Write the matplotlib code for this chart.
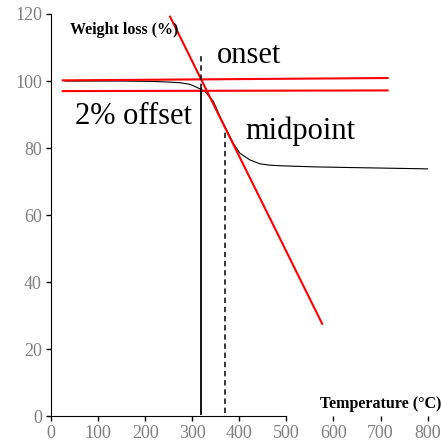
import matplotlib
matplotlib.use("Agg")
import matplotlib.pyplot as plt

# TGA curve (temperature in °C, remaining weight in %)
temp = [30, 150, 214, 250, 274, 296, 313, 327, 345, 359, 373, 387, 401, 422, 444, 465, 493, 560, 635, 720, 800]
weight = [100, 100, 99.9, 99.7, 99.5, 99.0, 97.9, 96.9, 93.9, 89.4, 85.5, 81.5, 78.5, 76.5, 75.3, 74.9, 74.7, 74.4, 74.2, 74.0, 73.8]

# construction lines
baseline_x = [25, 715]
baseline_y = [100.2, 100.9]
offset_x = [25, 715]
offset_y = [97.0, 97.2]
tangent_x = [253, 576]
tangent_y = [119.2, 27.6]

onset_temp = 318
onset_top = 107.5
offset_level = 97.6
midpoint_temp = 369.5
midpoint_level = 85

xticks = [0, 100, 200, 300, 400, 500, 600, 700, 800]
yticks = [0, 20, 40, 60, 80, 100, 120]

plt.rcParams['font.family'] = ['Liberation Serif', 'DejaVu Serif']

fig = plt.figure(figsize=(4.42, 4.47), dpi=100)
ax = fig.add_axes([0.1154, 0.0687, 0.852, 0.90])

ax.plot(temp, weight, color='black', lw=0.8)
ax.plot(baseline_x, baseline_y, color='red', lw=1.5)
ax.plot(offset_x, offset_y, color='red', lw=1.5)
ax.plot(tangent_x, tangent_y, color='red', lw=1.5)

dash = (0, (3.5, 2.5))
ax.plot([onset_temp, onset_temp], [0.8, offset_level], color='black', lw=1.3)
ax.plot([onset_temp, onset_temp], [offset_level, onset_top], color='black', lw=1.1, ls=dash)
ax.plot([midpoint_temp, midpoint_temp], [1.0, midpoint_level], color='black', lw=1.1, ls=dash)

ax.text(353, 105.5, 'onset', fontsize=22, va='baseline', ha='left')
ax.text(51, 87.3, '2% offset', fontsize=22, va='baseline', ha='left')
ax.text(414, 82.8, 'midpoint', fontsize=22, va='baseline', ha='left')
ax.text(40, 115.3, 'Weight loss (%)', fontsize=11.5, fontweight='bold', va='center', ha='left')
ax.text(571, 3.7, 'Temperature (°C)', fontsize=11.5, fontweight='bold', va='center', ha='left', clip_on=False)

ax.set_xlim(0, 800)
ax.set_ylim(0, 120)
ax.set_xticks(xticks)
ax.set_yticks(yticks)
ax.spines['top'].set_visible(False)
ax.spines['right'].set_visible(False)
ax.spines['bottom'].set_bounds(0, 500)
ax.tick_params(direction='out', length=3.5, width=1, color='black', labelsize=13, labelcolor='#7f7f7f', pad=3)

fig.savefig('out.png', dpi=100)
